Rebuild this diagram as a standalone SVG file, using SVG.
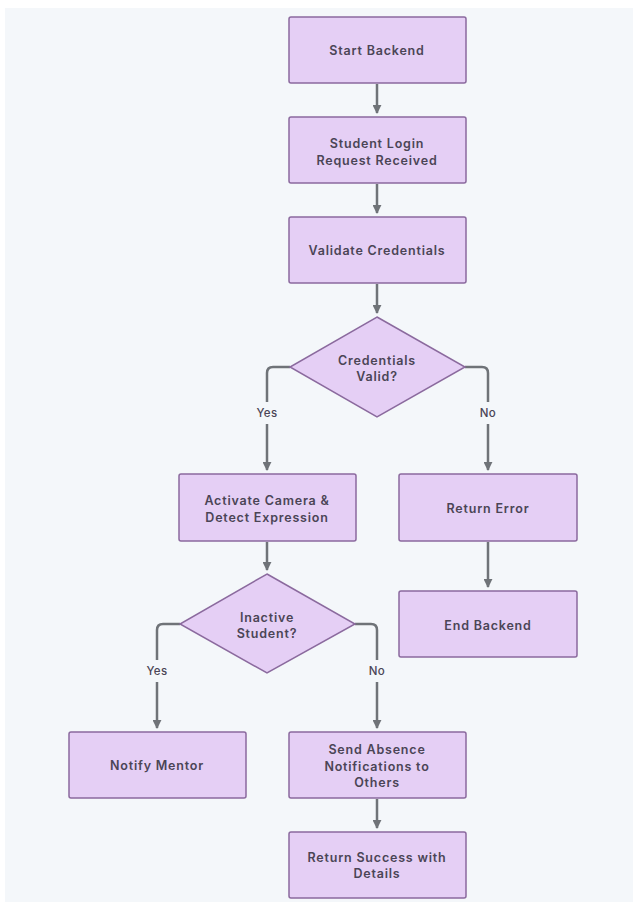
<svg xmlns="http://www.w3.org/2000/svg" width="633" height="902" viewBox="0 0 633 902">
<style>
.n{fill:#e5cff5;stroke:#8b6a9e;stroke-width:1.5}
.t{font-family:Inter,"Liberation Sans",sans-serif;font-size:12.5px;font-weight:600;letter-spacing:0.8px;fill:#4b4556;text-anchor:middle}
.e{fill:none;stroke:#6f7378;stroke-width:2.5}
.l{font-family:Inter,"Liberation Sans",sans-serif;font-size:11.5px;font-weight:500;letter-spacing:0.4px;fill:#4b4556;text-anchor:middle}
</style>
<defs>
<marker id="a" viewBox="0 0 10 10" refX="9" refY="5" markerWidth="3.6" markerHeight="3.6" orient="auto" markerUnits="strokeWidth">
<path d="M0,0L10,5L0,10z" fill="#6f7378"/>
</marker>
</defs>
<rect x="0" y="0" width="633" height="902" fill="#ffffff"/>
<rect x="5" y="8" width="628" height="894" fill="#f4f7fa"/>
<g id="connectors">
<path class="e" d="M377,84V113" marker-end="url(#a)"/>
<path class="e" d="M377,184V213" marker-end="url(#a)"/>
<path class="e" d="M377,284V313" marker-end="url(#a)"/>
<path class="e" d="M290,367H273Q267,367 267,373V402M267,424V470" marker-end="url(#a)"/>
<path class="e" d="M465,367H482Q488,367 488,373V402M488,424V470" marker-end="url(#a)"/>
<path class="e" d="M267,542V570" marker-end="url(#a)"/>
<path class="e" d="M488,542V587" marker-end="url(#a)"/>
<path class="e" d="M180,624H163Q157,624 157,630V660M157,682V728" marker-end="url(#a)"/>
<path class="e" d="M355,624H371Q377,624 377,630V660M377,682V728" marker-end="url(#a)"/>
<path class="e" d="M377,799V828" marker-end="url(#a)"/>
<text class="l" x="267" y="417">Yes</text>
<text class="l" x="488" y="417">No</text>
<text class="l" x="157" y="675">Yes</text>
<text class="l" x="377" y="675">No</text>
</g>
<g id="start"><rect class="n" x="289" y="17" width="177" height="66" rx="2"/><text class="t" x="377" y="55">Start Backend</text></g>
<g id="login"><rect class="n" x="289" y="117" width="177" height="66" rx="2"/><text class="t" x="377" y="148">Student Login</text><text class="t" x="377" y="165">Request Received</text></g>
<g id="validate"><rect class="n" x="289" y="217" width="177" height="66" rx="2"/><text class="t" x="377" y="255">Validate Credentials</text></g>
<g id="valid"><path class="n" d="M377,317L465,367L377,417L290,367z"/><text class="t" x="377" y="365">Credentials</text><text class="t" x="377" y="381">Valid?</text></g>
<g id="camera"><rect class="n" x="179" y="474" width="177" height="67" rx="2"/><text class="t" x="267" y="505">Activate Camera &amp;</text><text class="t" x="267" y="522">Detect Expression</text></g>
<g id="error"><rect class="n" x="399" y="474" width="178" height="67" rx="2"/><text class="t" x="488" y="513">Return Error</text></g>
<g id="end"><rect class="n" x="399" y="591" width="178" height="66" rx="2"/><text class="t" x="488" y="630">End Backend</text></g>
<g id="inactive"><path class="n" d="M267,574L355,624L267,673L180,624z"/><text class="t" x="267" y="622">Inactive</text><text class="t" x="267" y="638">Student?</text></g>
<g id="mentor"><rect class="n" x="69" y="732" width="177" height="66" rx="2"/><text class="t" x="157" y="770">Notify Mentor</text></g>
<g id="absence"><rect class="n" x="289" y="732" width="177" height="66" rx="2"/><text class="t" x="377" y="754">Send Absence</text><text class="t" x="377" y="771">Notifications to</text><text class="t" x="377" y="787">Others</text></g>
<g id="success"><rect class="n" x="289" y="832" width="177" height="66" rx="2"/><text class="t" x="377" y="862">Return Success with</text><text class="t" x="377" y="878">Details</text></g>
</svg>
